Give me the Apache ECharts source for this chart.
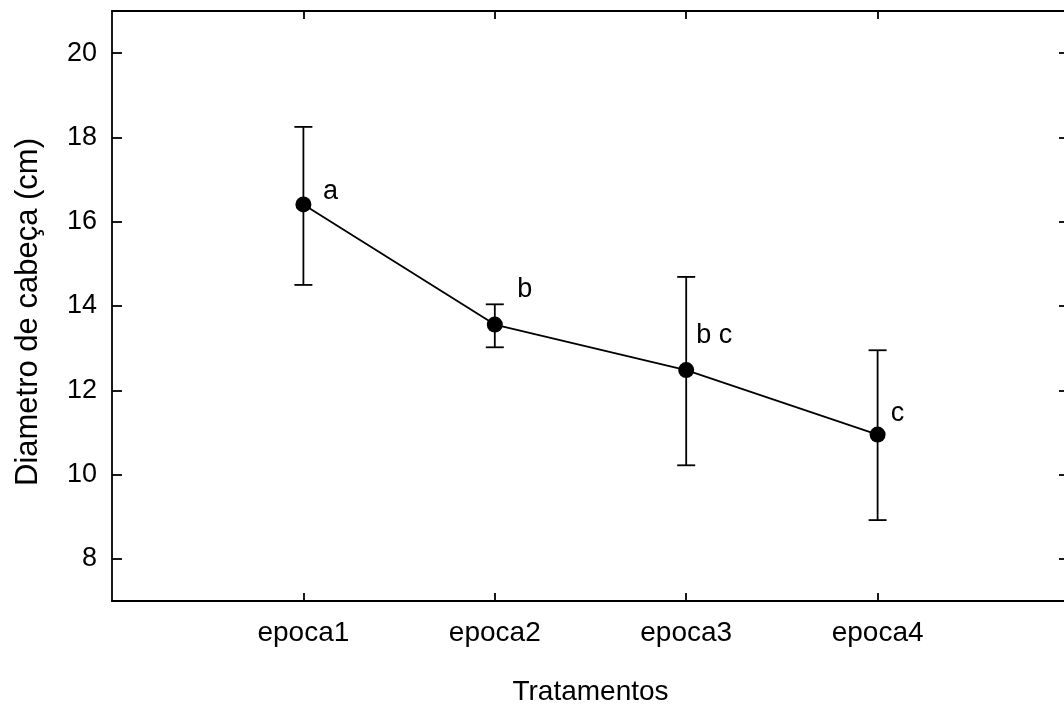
<!DOCTYPE html>
<html>
<head>
<meta charset="utf-8">
<script src="https://cdn.jsdelivr.net/npm/echarts@6/dist/echarts.min.js"></script>
<style>html,body{margin:0;padding:0;background:#fff}#c{width:1064px;height:704px}</style>
</head>
<body>
<div id="c"></div>
<script>
// ---- data ----
var categories = ['epoca1', 'epoca2', 'epoca3', 'epoca4'];
var means      = [16.41, 13.56, 12.48, 10.95];
var lower      = [14.50, 13.02, 10.22, 8.92];
var upper      = [18.25, 14.04, 14.69, 12.95];
var letters    = ['a', 'b', 'b c', 'c'];
var yTicks     = [8, 10, 12, 14, 16, 18, 20];

// ---- build ----
var FONT = 'Liberation Sans, Arial, sans-serif';
var xPos = categories.map(function (c, i) { return i + 1; });
var letterOffsets = [[27, -13], [30, -35], [28, -35], [20, -21]];
var LW = 1.8;

var lineData = means.map(function (m, i) {
  return {
    value: [xPos[i], m],
    label: {
      show: true, formatter: letters[i], position: 'inside',
      offset: letterOffsets[i], color: '#000', fontSize: 27, fontFamily: FONT
    }
  };
});
var errData = means.map(function (m, i) { return [xPos[i], lower[i], upper[i]]; });

var axisLineStyle = { show: true, onZero: false, lineStyle: { color: '#000', width: LW } };

var chart = echarts.init(document.getElementById('c'), null, { renderer: 'canvas' });
chart.setOption({
  animation: false,
  backgroundColor: '#fff',
  grid: { left: 112, right: -5, top: 11, bottom: 103, containLabel: false, outerBoundsMode: 'none' },
  xAxis: [{
    type: 'value', position: 'bottom', min: 0, max: 5,
    axisLine: axisLineStyle,
    axisTick: { show: true, inside: true, length: 8, customValues: xPos, lineStyle: { color: '#000', width: LW } },
    axisLabel: {
      show: true, customValues: xPos, margin: 18, color: '#000', fontSize: 28, fontFamily: FONT,
      formatter: function (v) { return categories[Math.round(v) - 1] || ''; }
    },
    splitLine: { show: false },
    name: 'Tratamentos', nameLocation: 'middle', nameGap: 77,
    nameTextStyle: { color: '#000', fontSize: 28, fontFamily: FONT }
  }, {
    type: 'value', position: 'top', min: 0, max: 5,
    axisLine: axisLineStyle,
    axisTick: { show: true, inside: true, length: 8, customValues: xPos, lineStyle: { color: '#000', width: LW } },
    axisLabel: { show: false },
    splitLine: { show: false }
  }],
  yAxis: [{
    type: 'value', position: 'left', min: 7, max: 21,
    axisLine: axisLineStyle,
    axisTick: { show: true, inside: true, length: 10, customValues: yTicks, lineStyle: { color: '#000', width: LW } },
    axisLabel: { show: true, customValues: yTicks, margin: 15, color: '#000', fontSize: 27, fontFamily: FONT },
    splitLine: { show: false },
    name: 'Diametro de cabeça (cm)', nameLocation: 'middle', nameGap: 68, nameRotate: 90,
    nameTextStyle: { color: '#000', fontSize: 31, fontFamily: FONT, padding: [0, 12, 0, 0] }
  }, {
    type: 'value', position: 'right', min: 7, max: 21,
    axisLine: axisLineStyle,
    axisTick: { show: true, inside: true, length: 10, customValues: yTicks, lineStyle: { color: '#000', width: LW } },
    axisLabel: { show: false },
    splitLine: { show: false }
  }],
  series: [{
    type: 'custom',
    xAxisIndex: 0, yAxisIndex: 0,
    data: errData,
    renderItem: function (params, api) {
      var x = api.value(0);
      var lo = api.coord([x, api.value(1)]);
      var hi = api.coord([x, api.value(2)]);
      var hw = 9;
      var st = { stroke: '#000', lineWidth: LW };
      return {
        type: 'group',
        children: [
          { type: 'line', shape: { x1: lo[0], y1: lo[1], x2: hi[0], y2: hi[1] }, style: st },
          { type: 'line', shape: { x1: lo[0] - hw, y1: lo[1], x2: lo[0] + hw, y2: lo[1] }, style: st },
          { type: 'line', shape: { x1: hi[0] - hw, y1: hi[1], x2: hi[0] + hw, y2: hi[1] }, style: st }
        ]
      };
    },
    z: 2
  }, {
    type: 'line',
    xAxisIndex: 0, yAxisIndex: 0,
    data: lineData,
    symbol: 'circle', symbolSize: 16,
    lineStyle: { color: '#000', width: LW },
    itemStyle: { color: '#000' },
    z: 3
  }]
});
</script>
</body>
</html>
